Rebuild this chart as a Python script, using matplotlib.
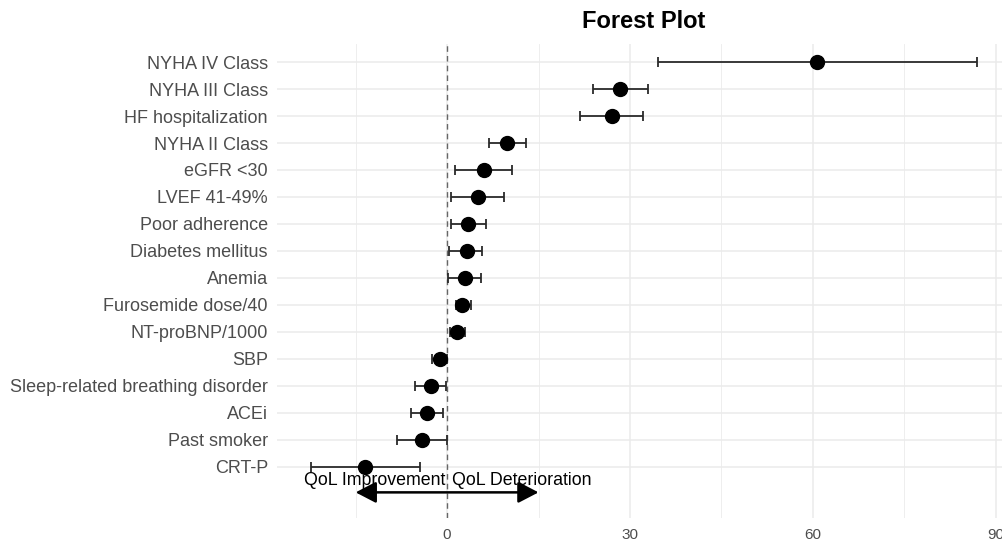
import matplotlib.pyplot as plt
import numpy as np

plt.rcParams['font.family'] = ['Liberation Sans', 'DejaVu Sans']

# factors, bottom to top
labels = ['CRT-P', 'Past smoker', 'ACEi', 'Sleep-related breathing disorder', 'SBP',
          'NT-proBNP/1000', 'Furosemide dose/40', 'Anemia', 'Diabetes mellitus',
          'Poor adherence', 'LVEF 41-49%', 'eGFR <30', 'NYHA II Class',
          'HF hospitalization', 'NYHA III Class', 'NYHA IV Class']
est = [-13.4, -4.1, -3.3, -2.7, -1.1, 1.7, 2.5, 3.0, 3.3, 3.5, 5.0, 6.0, 9.9, 27.0, 28.4, 60.7]
lower = [-22.3, -8.2, -5.9, -5.2, -2.4, 0.5, 1.4, 0.2, 0.3, 0.6, 0.7, 1.3, 6.9, 21.8, 23.9, 34.6]
upper = [-4.5, -0.05, -0.7, -0.2, -0.05, 2.95, 3.9, 5.6, 5.7, 6.4, 9.3, 10.6, 13.0, 32.1, 33.0, 86.9]
xticks = [0, 30, 60, 90]

est = np.array(est)
lower = np.array(lower)
upper = np.array(upper)
ypos = np.arange(1, len(labels) + 1)

fig = plt.figure(figsize=(10.03, 5.41), dpi=100)
ax = fig.add_axes([277/1003, 23/541, 734/1003, 474/541])

# grid like theme_minimal
for v in [-15, 15, 45, 75]:
    ax.axvline(v, color='#EBEBEB', lw=0.6, zorder=0)
for v in xticks:
    ax.axvline(v, color='#EBEBEB', lw=1.1, zorder=0)
for y in ypos:
    ax.axhline(y, color='#EBEBEB', lw=1.1, zorder=0)

ax.axvline(0, color='#666666', lw=1.0, ls=(0, (4, 3)), zorder=1)

ax.errorbar(est, ypos, xerr=[est - lower, upper - est], fmt='none',
            ecolor='#2a2a2a', elinewidth=1.3, capsize=3.5, capthick=1.3, zorder=2)
ax.plot(est, ypos, 'o', color='black', ms=10, zorder=3)

# direction annotation
ax.annotate('', xy=(-15, 0.05), xytext=(15, 0.05),
            arrowprops=dict(arrowstyle='<|-|>,head_length=1.25,head_width=0.65',
                            color='black', lw=1.8, shrinkA=0, shrinkB=0), zorder=4)
ax.text(-0.3, 0.5, 'QoL Improvement', ha='right', va='center', fontsize=12.8, color='black', zorder=5)
ax.text(0.8, 0.5, 'QoL Deterioration', ha='left', va='center', fontsize=12.8, color='black', zorder=5)

ax.set_xlim(-27.9, 92.5)
ax.set_ylim(-0.9, 16.67)
ax.set_xticks(xticks)
ax.set_xticklabels([str(t) for t in xticks], fontsize=11, color='#4D4D4D')
ax.set_yticks(ypos)
ax.set_yticklabels(labels, fontsize=13, color='#4D4D4D')
ax.tick_params(axis='both', length=0)
ax.tick_params(axis='x', pad=7)
ax.tick_params(axis='y', pad=6.5)
for s in ax.spines.values():
    s.set_visible(False)

fig.text(644/1003, 1 - 22/541, 'Forest Plot', ha='center', va='center',
         fontsize=17, fontweight='bold')

fig.savefig('out.png', dpi=100)
